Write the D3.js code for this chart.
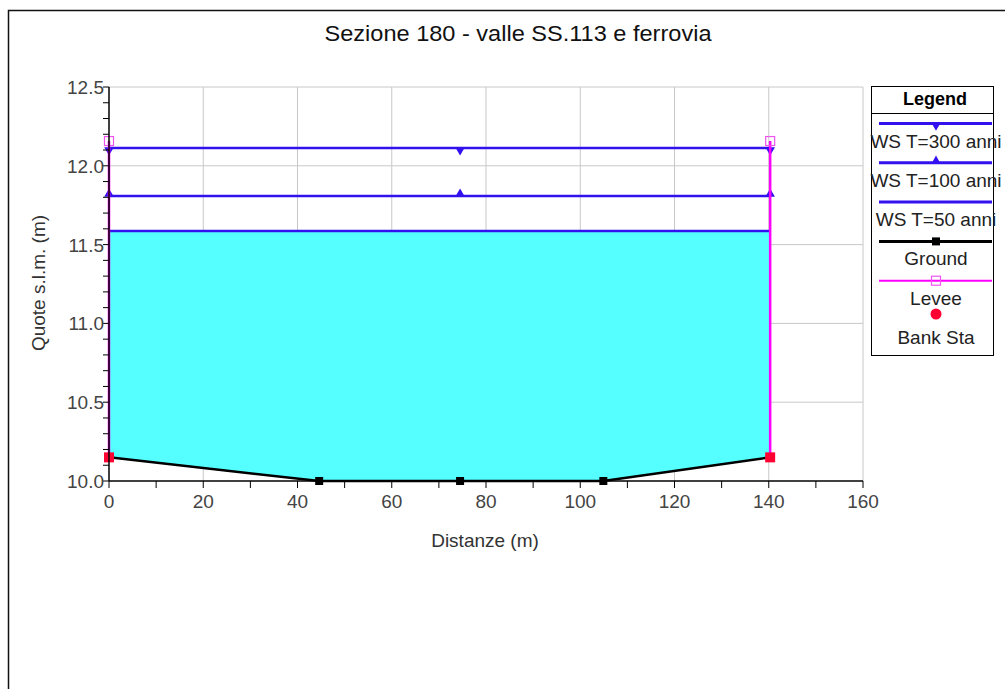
<!DOCTYPE html>
<html>
<head>
<meta charset="utf-8">
<script src="https://cdn.jsdelivr.net/npm/d3@7"></script>
<style>
  body { margin: 0; background: #fff; }
  text { font-family: "Liberation Sans", Arial, sans-serif; }
</style>
</head>
<body>
<script>
// cross-section data (station m, elevation m)
let groundX = [0, 44.6, 74.5, 104.9, 140.3];
let groundY = [10.15, 10.0, 10.0, 10.0, 10.15];
let levees = [{x: 0, y: 12.157}, {x: 140.3, y: 12.157}];
let bankSta = [{x: 0, y: 10.15}, {x: 140.3, y: 10.15}];
let wsNames = ["WS T=300 anni", "WS T=100 anni", "WS T=50 anni"];
let wsLevels = [12.113, 11.808, 11.586];
let wsMarkerX = [0, 74.5, 140.3];
let xTicks = [0, 20, 40, 60, 80, 100, 120, 140, 160];
let yTicks = [10.0, 10.5, 11.0, 11.5, 12.0, 12.5];

let margin = null, width = null, height = null;
let svg = null, plot = null;
let x, y = null;

setupCanvasSize();
appendSvg("body");
setupScales();
appendGrid();
appendWaterFill();
appendWsLines();
appendGround();
appendLevees();
appendAxes();
appendTitles();
appendLegend();

function setupCanvasSize() {
  margin = {top: 87, left: 109, bottom: 208, right: 142};
  width = 1005 - margin.left - margin.right;
  height = 689 - margin.top - margin.bottom;
}

function appendSvg(domElement) {
  svg = d3.select(domElement).append("svg")
    .attr("width", 1005)
    .attr("height", 689);
  // outer frame (top and left only visible)
  svg.append("path")
    .attr("d", "M8.5,689 V10.5 H1005")
    .attr("fill", "none")
    .attr("stroke", "#111")
    .attr("stroke-width", 1.5);
  plot = svg.append("g")
    .attr("transform", `translate(${margin.left}, ${margin.top})`);
}

function setupScales() {
  x = d3.scaleLinear().domain([0, 160]).range([0, width]);
  y = d3.scaleLinear().domain([10, 12.5]).range([height, 0]);
}

function appendGrid() {
  plot.append("g").selectAll("line").data(xTicks.slice(1))
    .enter().append("line")
    .attr("x1", d => x(d)).attr("x2", d => x(d))
    .attr("y1", 0).attr("y2", height)
    .attr("stroke", "#c8c8c8").attr("stroke-width", 1);
  plot.append("g").selectAll("line").data(yTicks.slice(1))
    .enter().append("line")
    .attr("x1", 0).attr("x2", width)
    .attr("y1", d => y(d)).attr("y2", d => y(d))
    .attr("stroke", "#c8c8c8").attr("stroke-width", 1);
}

function appendWaterFill() {
  let level = wsLevels[2];
  let pts = groundX.map((gx, i) => [x(gx), y(groundY[i])]);
  let poly = [[x(groundX[0]), y(level)]].concat(pts).concat([[x(groundX[groundX.length - 1]), y(level)]]);
  plot.append("path")
    .attr("d", "M" + poly.map(p => p.join(",")).join("L") + "Z")
    .attr("fill", "#55ffff");
}

function appendWsLines() {
  let x0 = groundX[0], x1 = groundX[groundX.length - 1];
  wsLevels.forEach((lv, i) => {
    plot.append("line")
      .attr("x1", x(x0)).attr("x2", x(x1))
      .attr("y1", y(lv)).attr("y2", y(lv))
      .attr("stroke", "#3311ee").attr("stroke-width", 2.5);
    if (i < 2) {
      let sym = d3.symbol().type(d3.symbolTriangle).size(40);
      plot.selectAll(".ws" + i).data(wsMarkerX).enter()
        .append("path")
        .attr("transform", d => `translate(${x(d)},${y(lv) + (i === 0 ? 2 : -2)}) rotate(${i === 0 ? 180 : 0})`)
        .attr("d", sym())
        .attr("fill", "#3311ee");
    }
  });
}

function appendGround() {
  let line = d3.line().x((d, i) => x(d)).y((d, i) => y(groundY[i]));
  plot.append("path")
    .attr("d", line(groundX))
    .attr("fill", "none")
    .attr("stroke", "#000").attr("stroke-width", 2.5);
  plot.selectAll(".gpt").data(groundX.slice(1, -1)).enter()
    .append("rect")
    .attr("x", d => x(d) - 4).attr("y", (d, i) => y(groundY[i + 1]) - 4)
    .attr("width", 8).attr("height", 8)
    .attr("fill", "#000");
}

function appendLevees() {
  levees.forEach((lv, i) => {
    plot.append("line")
      .attr("x1", x(lv.x)).attr("x2", x(lv.x))
      .attr("y1", y(lv.y)).attr("y2", y(bankSta[i].y))
      .attr("stroke", "#ff00ff").attr("stroke-width", 2.5);
    plot.append("rect")
      .attr("x", x(lv.x) - 4.5).attr("y", y(lv.y) - 4.5)
      .attr("width", 9).attr("height", 9)
      .attr("fill", "none").attr("stroke", "#ee55ee").attr("stroke-width", 1.2);
  });
  plot.selectAll(".bank").data(bankSta).enter()
    .append("rect")
    .attr("x", d => x(d.x) - 5).attr("y", d => y(d.y) - 5)
    .attr("width", 10).attr("height", 10)
    .attr("fill", "#ff0033");
}

function appendAxes() {
  // minor ticks
  let xMinor = d3.range(0, 161, 10);
  let yMinor = d3.range(0, 26).map(k => 10 + k * 0.1);
  let ax = plot.append("g").attr("transform", `translate(0, ${height})`);
  ax.selectAll("line").data(xMinor).enter().append("line")
    .attr("x1", d => x(d)).attr("x2", d => x(d))
    .attr("y1", 0).attr("y2", 7)
    .attr("stroke", "#000");
  ax.append("line").attr("x1", 0).attr("x2", width).attr("stroke", "#000").attr("stroke-width", 1.5);
  ax.selectAll("text").data(xTicks).enter().append("text")
    .attr("x", d => x(d)).attr("y", 27)
    .attr("text-anchor", "middle")
    .attr("font-size", 19).attr("fill", "#444")
    .text(d => d);

  let ay = plot.append("g");
  ay.selectAll("line").data(yMinor).enter().append("line")
    .attr("x1", -6).attr("x2", 0)
    .attr("y1", d => y(d)).attr("y2", d => y(d))
    .attr("stroke", "#000");
  ay.append("line").attr("y1", 0).attr("y2", height).attr("stroke", "#000").attr("stroke-width", 1.5);
  ay.selectAll("text").data(yTicks).enter().append("text")
    .attr("x", -5).attr("y", d => y(d) + 7)
    .attr("text-anchor", "end")
    .attr("font-size", 19).attr("fill", "#444")
    .text(d => d.toFixed(1));
}

function appendTitles() {
  svg.append("text")
    .attr("x", 518).attr("y", 41)
    .attr("text-anchor", "middle")
    .attr("font-size", 22).attr("fill", "#111")
    .attr("textLength", 387).attr("lengthAdjust", "spacingAndGlyphs")
    .text("Sezione 180 - valle SS.113 e ferrovia");
  svg.append("text")
    .attr("x", 485).attr("y", 547)
    .attr("text-anchor", "middle")
    .attr("font-size", 19).attr("fill", "#333")
    .text("Distanze (m)");
  svg.append("text")
    .attr("transform", `translate(45, 283) rotate(-90)`)
    .attr("text-anchor", "middle")
    .attr("font-size", 19).attr("fill", "#333")
    .text("Quote s.l.m. (m)");
}

function appendLegend() {
  let lg = svg.append("g").attr("transform", "translate(871, 86)");
  lg.append("rect").attr("x", 0.5).attr("y", 0.5).attr("width", 122).attr("height", 269)
    .attr("fill", "#fff").attr("stroke", "#000");
  lg.append("line").attr("x1", 0).attr("x2", 122).attr("y1", 27.5).attr("y2", 27.5).attr("stroke", "#000");
  lg.append("text").attr("x", 64).attr("y", 19).attr("text-anchor", "middle")
    .attr("font-size", 18).attr("font-weight", "bold").text("Legend");

  let cx = 65, x0 = 8, x1 = 121;
  let items = [
    {name: wsNames[0], color: "#3311ee", mark: "down"},
    {name: wsNames[1], color: "#3311ee", mark: "up"},
    {name: wsNames[2], color: "#3311ee", mark: "none"},
    {name: "Ground", color: "#000", mark: "square"},
    {name: "Levee", color: "#ff00ff", mark: "open"},
    {name: "Bank Sta", color: "#ff0033", mark: "dot"}
  ];
  items.forEach((it, i) => {
    let ly = 37.5 + i * 39.3;
    if (it.mark !== "dot") {
      lg.append("line").attr("x1", x0).attr("x2", x1).attr("y1", ly).attr("y2", ly)
        .attr("stroke", it.color).attr("stroke-width", it.mark === "open" ? 2 : 3);
    }
    if (it.mark === "down" || it.mark === "up") {
      lg.append("path")
        .attr("transform", `translate(${cx},${ly + (it.mark === "down" ? 2 : -2)}) rotate(${it.mark === "down" ? 180 : 0})`)
        .attr("d", d3.symbol().type(d3.symbolTriangle).size(35)())
        .attr("fill", it.color);
    } else if (it.mark === "square") {
      lg.append("rect").attr("x", cx - 4).attr("y", ly - 4).attr("width", 8).attr("height", 8).attr("fill", "#000");
    } else if (it.mark === "open") {
      lg.append("rect").attr("x", cx - 4.5).attr("y", ly - 4.5).attr("width", 9).attr("height", 9)
        .attr("fill", "none").attr("stroke", "#ee55ee").attr("stroke-width", 1.2);
    } else if (it.mark === "dot") {
      lg.append("circle").attr("cx", cx).attr("cy", ly - 6).attr("r", 5.5).attr("fill", it.color);
    }
    lg.append("text").attr("x", cx).attr("y", ly + 24)
      .attr("text-anchor", "middle").attr("font-size", 19).attr("fill", "#222")
      .text(it.name);
  });
}
</script>
</body>
</html>
